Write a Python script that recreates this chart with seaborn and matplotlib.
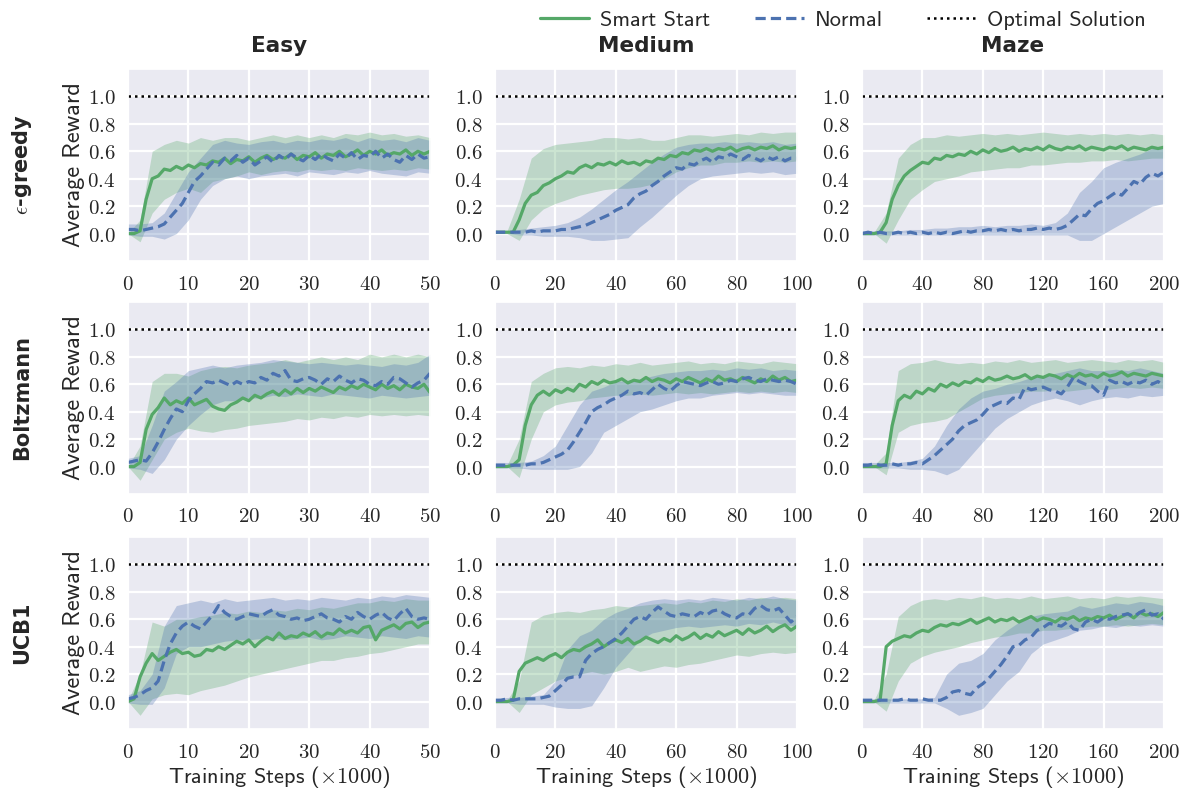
import matplotlib
matplotlib.use("Agg")
import matplotlib.pyplot as plt
import numpy as np
import pandas as pd
import seaborn as sns
from matplotlib.ticker import FuncFormatter
from matplotlib.lines import Line2D

# ---------------- data ----------------
ROWS = ["$\\epsilon$-greedy", "Boltzmann", "UCB1"]
COLS = ["Easy", "Medium", "Maze"]
XMAX = [50, 100, 200]
XTICKS = [[0, 10, 20, 30, 40, 50], [0, 20, 40, 60, 80, 100], [0, 40, 80, 120, 160, 200]]
YTICKS = [0.0, 0.2, 0.4, 0.6, 0.8, 1.0]
OPTIMAL = 1.0
METHODS = ["Smart Start", "Normal", "Optimal Solution"]

# sample steps of mean lines and of the shaded bands (x 1000 steps)
STEPS_EASY = list(range(0, 51, 1))
STEPS_MED = list(range(0, 101, 2))
STEPS_MAZE = list(range(0, 201, 4))
BAND_EASY = list(range(0, 51, 2))
BAND_MED = list(range(0, 101, 4))
BAND_MAZE = list(range(0, 201, 8))

# ---- epsilon-greedy ----
EG_EASY_SMART = [0.00,0.00,0.02,0.25,0.40,0.42,0.47,0.46,0.49,0.47, 0.50,0.48,0.51,0.50,0.53,0.52,0.55,0.51,0.54,0.53,
                 0.56,0.52,0.55,0.57,0.54,0.56,0.55,0.58,0.54,0.57, 0.56,0.59,0.55,0.58,0.57,0.60,0.56,0.58,0.61,0.57,
                 0.60,0.58,0.61,0.57,0.59,0.58,0.61,0.57,0.60,0.58, 0.60]
EG_EASY_NORMAL = [0.03,0.03,0.02,0.03,0.04,0.05,0.07,0.12,0.17,0.22, 0.30,0.38,0.42,0.47,0.52,0.50,0.55,0.53,0.57,0.52,
                  0.55,0.50,0.53,0.56,0.52,0.57,0.54,0.58,0.55,0.53, 0.57,0.54,0.58,0.55,0.53,0.58,0.55,0.59,0.54,0.57,
                  0.56,0.60,0.55,0.58,0.54,0.52,0.57,0.54,0.58,0.55, 0.56]
EG_EASY_SMART_LO = [0.00,-0.06,0.15,0.25,0.30,0.33,0.30,0.38,0.40,0.42, 0.45,0.43,0.45,0.46,0.45,0.47,0.46,0.47,0.46,0.48,
                    0.47,0.46,0.47,0.46,0.48,0.47]
EG_EASY_SMART_HI = [0.00,0.10,0.60,0.65,0.68,0.66,0.70,0.68,0.70,0.70, 0.68,0.70,0.72,0.70,0.72,0.70,0.72,0.70,0.73,0.72,
                    0.74,0.72,0.73,0.71,0.72,0.70]
EG_EASY_NORMAL_LO = [-0.01,-0.02,-0.02,-0.04,0.00,0.10,0.25,0.35,0.40,0.42, 0.40,0.42,0.43,0.44,0.42,0.45,0.44,0.43,0.45,0.44,
                     0.46,0.44,0.43,0.42,0.45,0.44]
EG_EASY_NORMAL_HI = [0.07,0.07,0.08,0.15,0.30,0.45,0.55,0.65,0.68,0.66, 0.65,0.67,0.68,0.66,0.68,0.67,0.69,0.68,0.70,0.67,
                     0.70,0.68,0.69,0.67,0.70,0.68]

EG_MED_SMART = [0.01,0.01,0.01,0.01,0.10,0.22,0.28,0.30,0.35,0.37, 0.40,0.42,0.45,0.44,0.48,0.50,0.48,0.51,0.50,0.52,
                0.50,0.53,0.51,0.52,0.50,0.53,0.52,0.55,0.54,0.57, 0.56,0.59,0.58,0.61,0.60,0.62,0.60,0.62,0.61,0.63,
                0.60,0.62,0.63,0.61,0.63,0.62,0.64,0.61,0.63,0.62, 0.63]
EG_MED_NORMAL = [0.01,0.01,0.01,0.01,0.01,0.01,0.02,0.01,0.02,0.02, 0.02,0.03,0.03,0.04,0.05,0.06,0.08,0.10,0.12,0.14,
                 0.17,0.19,0.21,0.26,0.29,0.31,0.35,0.38,0.42,0.45, 0.48,0.47,0.51,0.50,0.53,0.55,0.52,0.56,0.55,0.58,
                 0.56,0.54,0.57,0.55,0.53,0.56,0.54,0.56,0.53,0.55, 0.55]
EG_MED_SMART_LO = [0.00,0.00,-0.05,0.10,0.18,0.22,0.25,0.28,0.30,0.32, 0.33,0.33,0.34,0.36,0.40,0.45,0.48,0.50,0.50,0.52,
                   0.52,0.53,0.52,0.53,0.52,0.53]
EG_MED_SMART_HI = [0.02,0.02,0.25,0.55,0.62,0.65,0.66,0.67,0.68,0.70, 0.70,0.69,0.70,0.68,0.68,0.70,0.72,0.72,0.71,0.72,
                   0.73,0.72,0.74,0.73,0.74,0.74]
EG_MED_NORMAL_LO = [0.00,0.00,-0.01,-0.01,-0.02,-0.02,-0.02,-0.03,-0.05,-0.05, -0.04,-0.03,0.05,0.12,0.20,0.28,0.35,0.40,0.42,0.43,
                    0.44,0.45,0.44,0.45,0.43,0.44]
EG_MED_NORMAL_HI = [0.02,0.02,0.03,0.04,0.05,0.06,0.08,0.12,0.18,0.25, 0.32,0.38,0.45,0.52,0.58,0.63,0.65,0.66,0.66,0.67,
                    0.66,0.67,0.66,0.67,0.65,0.66]

EG_MAZE_SMART = [0.00,0.00,0.00,0.01,0.08,0.25,0.35,0.42,0.46,0.49, 0.52,0.51,0.55,0.54,0.57,0.56,0.58,0.57,0.60,0.58,
                 0.61,0.59,0.62,0.60,0.61,0.63,0.60,0.62,0.61,0.63, 0.61,0.64,0.62,0.61,0.63,0.62,0.64,0.61,0.63,0.62,
                 0.61,0.63,0.62,0.64,0.61,0.63,0.62,0.61,0.63,0.62, 0.63]
EG_MAZE_NORMAL = [0.00,0.01,0.00,0.01,0.00,0.00,0.01,0.00,0.01,0.00, 0.01,0.00,0.01,0.00,0.01,0.00,0.01,0.02,0.01,0.02,
                  0.02,0.03,0.02,0.03,0.02,0.03,0.02,0.03,0.03,0.04, 0.03,0.04,0.03,0.04,0.06,0.10,0.14,0.13,0.18,0.22,
                  0.24,0.27,0.30,0.28,0.33,0.38,0.36,0.41,0.44,0.42, 0.45]
EG_MAZE_SMART_LO = [0.00,0.00,-0.07,0.10,0.25,0.32,0.38,0.40,0.42,0.45, 0.46,0.47,0.48,0.48,0.50,0.50,0.51,0.52,0.52,0.53,
                    0.53,0.54,0.53,0.54,0.55,0.55]
EG_MAZE_SMART_HI = [0.01,0.01,0.15,0.55,0.65,0.70,0.70,0.72,0.71,0.72, 0.73,0.72,0.73,0.72,0.73,0.74,0.73,0.72,0.73,0.72,
                    0.73,0.72,0.73,0.72,0.73,0.72]
EG_MAZE_NORMAL_LO = [-0.01,-0.01,-0.01,-0.01,-0.01,-0.01,-0.01,-0.01,-0.01,-0.01, -0.01,-0.01,-0.01,-0.01,-0.01,-0.01,-0.01,-0.01,-0.05,-0.05,
                     0.00,0.05,0.10,0.15,0.20,0.22]
EG_MAZE_NORMAL_HI = [0.02,0.02,0.02,0.02,0.03,0.03,0.04,0.04,0.05,0.05, 0.06,0.05,0.06,0.06,0.07,0.06,0.08,0.15,0.30,0.38,
                     0.48,0.52,0.55,0.58,0.62,0.62]

# ---- Boltzmann ----
BZ_EASY_SMART = [0.00,0.00,0.03,0.27,0.38,0.43,0.50,0.45,0.48,0.46, 0.50,0.45,0.47,0.49,0.44,0.42,0.41,0.45,0.47,0.50,
                 0.48,0.52,0.50,0.53,0.55,0.52,0.56,0.53,0.57,0.54, 0.57,0.55,0.58,0.56,0.54,0.58,0.56,0.59,0.57,0.60,
                 0.58,0.56,0.60,0.57,0.59,0.56,0.60,0.58,0.57,0.60, 0.54]
BZ_EASY_NORMAL = [0.03,0.04,0.05,0.04,0.10,0.18,0.27,0.35,0.42,0.40, 0.48,0.53,0.57,0.62,0.61,0.63,0.61,0.59,0.62,0.60,
                  0.62,0.61,0.65,0.63,0.68,0.66,0.70,0.63,0.62,0.64, 0.65,0.63,0.60,0.64,0.62,0.66,0.63,0.61,0.64,0.63,
                  0.60,0.59,0.62,0.60,0.65,0.64,0.61,0.58,0.61,0.63, 0.68]
BZ_EASY_SMART_LO = [0.00,-0.10,0.05,0.20,0.25,0.28,0.26,0.25,0.27,0.28, 0.30,0.31,0.32,0.33,0.35,0.34,0.36,0.35,0.37,0.36,
                    0.38,0.37,0.38,0.37,0.38,0.37]
BZ_EASY_SMART_HI = [0.00,0.15,0.62,0.68,0.68,0.66,0.70,0.72,0.73,0.72, 0.74,0.75,0.76,0.78,0.76,0.78,0.80,0.78,0.80,0.78,
                    0.82,0.80,0.82,0.80,0.82,0.80]
BZ_EASY_NORMAL_LO = [-0.01,-0.02,-0.05,0.05,0.20,0.30,0.38,0.45,0.48,0.48, 0.50,0.50,0.52,0.51,0.53,0.52,0.51,0.53,0.52,0.51,
                     0.50,0.52,0.51,0.50,0.51,0.52]
BZ_EASY_NORMAL_HI = [0.06,0.08,0.30,0.55,0.62,0.70,0.72,0.74,0.72,0.74, 0.75,0.76,0.78,0.77,0.76,0.75,0.76,0.75,0.74,0.75,
                     0.74,0.73,0.75,0.74,0.76,0.82]

BZ_MED_SMART = [0.00,0.00,0.00,0.01,0.05,0.30,0.45,0.52,0.55,0.52, 0.56,0.54,0.57,0.55,0.60,0.58,0.62,0.60,0.63,0.61,
                0.62,0.64,0.61,0.63,0.62,0.65,0.62,0.64,0.63,0.61, 0.64,0.62,0.65,0.63,0.61,0.64,0.62,0.66,0.63,0.64,
                0.62,0.65,0.63,0.61,0.64,0.62,0.66,0.63,0.65,0.62, 0.63]
BZ_MED_NORMAL = [0.01,0.01,0.01,0.01,0.01,0.01,0.02,0.02,0.03,0.05, 0.07,0.09,0.12,0.18,0.25,0.32,0.40,0.43,0.45,0.48,
                 0.50,0.52,0.55,0.53,0.54,0.52,0.56,0.60,0.57,0.55, 0.59,0.62,0.61,0.60,0.59,0.61,0.62,0.60,0.61,0.63,
                 0.62,0.64,0.65,0.63,0.62,0.64,0.63,0.62,0.63,0.62, 0.60]
BZ_MED_SMART_LO = [0.00,0.00,-0.08,0.20,0.40,0.45,0.47,0.48,0.50,0.51, 0.52,0.52,0.53,0.52,0.53,0.54,0.53,0.54,0.53,0.54,
                   0.55,0.54,0.55,0.54,0.55,0.54]
BZ_MED_SMART_HI = [0.01,0.01,0.20,0.62,0.68,0.72,0.73,0.72,0.74,0.73, 0.75,0.74,0.76,0.74,0.75,0.76,0.77,0.75,0.76,0.75,
                   0.77,0.76,0.75,0.77,0.76,0.75]
BZ_MED_NORMAL_LO = [-0.01,-0.01,-0.01,-0.02,-0.02,-0.02,-0.02,0.00,0.10,0.25, 0.30,0.35,0.40,0.42,0.45,0.48,0.50,0.50,0.52,0.53,
                    0.54,0.53,0.54,0.53,0.52,0.52]
BZ_MED_NORMAL_HI = [0.03,0.03,0.03,0.04,0.08,0.15,0.30,0.45,0.55,0.58, 0.62,0.63,0.64,0.66,0.68,0.69,0.70,0.70,0.71,0.70,
                    0.72,0.71,0.72,0.70,0.71,0.70]

BZ_MAZE_SMART = [0.00,0.00,0.00,0.00,0.02,0.30,0.48,0.52,0.50,0.55, 0.53,0.57,0.55,0.60,0.58,0.61,0.59,0.62,0.61,0.64,
                 0.62,0.65,0.63,0.64,0.66,0.64,0.65,0.67,0.64,0.66, 0.65,0.67,0.66,0.64,0.67,0.65,0.68,0.66,0.67,0.65,
                 0.68,0.66,0.67,0.69,0.66,0.68,0.67,0.66,0.68,0.67, 0.66]
BZ_MAZE_NORMAL = [0.01,0.01,0.02,0.01,0.01,0.02,0.01,0.02,0.02,0.03, 0.02,0.05,0.08,0.12,0.16,0.20,0.26,0.30,0.32,0.34,
                  0.38,0.43,0.45,0.47,0.46,0.50,0.49,0.58,0.56,0.57, 0.58,0.56,0.55,0.53,0.58,0.65,0.62,0.60,0.59,0.55,
                  0.52,0.63,0.61,0.62,0.60,0.62,0.61,0.63,0.60,0.62, 0.59]
BZ_MAZE_SMART_LO = [0.00,0.00,-0.06,0.25,0.30,0.32,0.33,0.35,0.40,0.45, 0.50,0.52,0.53,0.54,0.55,0.55,0.56,0.55,0.56,0.57,
                    0.56,0.57,0.58,0.57,0.58,0.57]
BZ_MAZE_SMART_HI = [0.01,0.01,0.10,0.70,0.75,0.76,0.78,0.76,0.75,0.76, 0.75,0.77,0.76,0.78,0.76,0.77,0.78,0.76,0.77,0.78,
                    0.77,0.76,0.78,0.77,0.78,0.76]
BZ_MAZE_NORMAL_LO = [-0.01,-0.01,-0.01,-0.01,-0.02,-0.02,-0.03,-0.06,-0.02,0.08, 0.18,0.28,0.35,0.40,0.45,0.48,0.50,0.48,0.45,0.48,
                     0.50,0.51,0.50,0.52,0.51,0.52]
BZ_MAZE_NORMAL_HI = [0.03,0.03,0.03,0.03,0.04,0.06,0.15,0.30,0.42,0.50, 0.55,0.57,0.60,0.62,0.65,0.66,0.68,0.70,0.72,0.70,
                     0.70,0.71,0.70,0.72,0.70,0.68]

# ---- UCB1 ----
UC_EASY_SMART = [0.00,0.02,0.18,0.28,0.35,0.30,0.33,0.36,0.38,0.35, 0.36,0.33,0.34,0.38,0.37,0.40,0.38,0.41,0.44,0.42,
                 0.45,0.40,0.44,0.47,0.45,0.50,0.46,0.48,0.47,0.50, 0.48,0.51,0.47,0.50,0.49,0.53,0.50,0.52,0.50,0.54,
                 0.55,0.45,0.52,0.54,0.56,0.53,0.57,0.58,0.54,0.57, 0.58]
UC_EASY_NORMAL = [0.02,0.03,0.05,0.08,0.10,0.15,0.30,0.42,0.50,0.55, 0.58,0.55,0.53,0.58,0.63,0.70,0.65,0.62,0.60,0.62,
                  0.64,0.63,0.62,0.65,0.67,0.63,0.62,0.60,0.61,0.59, 0.60,0.62,0.64,0.61,0.60,0.58,0.62,0.60,0.65,0.62,
                  0.60,0.63,0.65,0.61,0.59,0.64,0.68,0.62,0.60,0.61, 0.60]
UC_EASY_SMART_LO = [0.00,-0.10,0.02,0.05,0.06,0.05,0.08,0.10,0.12,0.15, 0.18,0.20,0.22,0.24,0.26,0.28,0.30,0.30,0.32,0.33,
                    0.35,0.36,0.38,0.40,0.42,0.42]
UC_EASY_SMART_HI = [0.01,0.20,0.58,0.55,0.60,0.60,0.62,0.63,0.65,0.64, 0.66,0.65,0.67,0.66,0.68,0.67,0.69,0.68,0.70,0.72,
                    0.72,0.74,0.73,0.75,0.74,0.74]
UC_EASY_NORMAL_LO = [-0.01,-0.02,-0.02,0.10,0.35,0.40,0.40,0.42,0.44,0.45, 0.45,0.46,0.47,0.45,0.46,0.47,0.45,0.46,0.48,0.47,
                     0.46,0.48,0.47,0.46,0.48,0.47]
UC_EASY_NORMAL_HI = [0.05,0.08,0.20,0.55,0.70,0.72,0.74,0.72,0.75,0.73, 0.74,0.75,0.76,0.74,0.75,0.74,0.76,0.75,0.74,0.76,
                     0.75,0.77,0.76,0.78,0.77,0.76]

UC_MED_SMART = [0.00,0.00,0.00,0.01,0.22,0.28,0.30,0.32,0.30,0.33, 0.35,0.32,0.36,0.38,0.37,0.40,0.42,0.45,0.40,0.43,
                0.45,0.43,0.46,0.42,0.44,0.47,0.45,0.43,0.46,0.44, 0.48,0.45,0.47,0.50,0.46,0.49,0.47,0.51,0.48,0.50,
                0.52,0.49,0.53,0.50,0.52,0.55,0.51,0.54,0.56,0.52, 0.55]
UC_MED_NORMAL = [0.01,0.01,0.02,0.01,0.02,0.02,0.02,0.02,0.03,0.04, 0.08,0.12,0.17,0.18,0.18,0.30,0.35,0.38,0.40,0.43,
                 0.46,0.50,0.55,0.60,0.62,0.60,0.65,0.69,0.66,0.63, 0.62,0.64,0.63,0.62,0.65,0.63,0.66,0.67,0.64,0.62,
                 0.61,0.64,0.63,0.68,0.70,0.67,0.66,0.68,0.63,0.58, 0.62]
UC_MED_SMART_LO = [0.00,0.00,-0.08,0.05,0.10,0.15,0.18,0.20,0.22,0.20, 0.22,0.25,0.22,0.24,0.26,0.25,0.27,0.28,0.30,0.32,
                   0.34,0.33,0.35,0.36,0.35,0.36]
UC_MED_SMART_HI = [0.01,0.01,0.15,0.58,0.63,0.65,0.66,0.65,0.67,0.68, 0.70,0.69,0.70,0.71,0.72,0.71,0.73,0.72,0.74,0.73,
                   0.75,0.74,0.76,0.75,0.76,0.75]
UC_MED_NORMAL_LO = [-0.01,-0.01,-0.02,-0.02,-0.02,-0.04,-0.05,-0.05,-0.03,0.10, 0.25,0.35,0.45,0.50,0.52,0.54,0.55,0.54,0.55,0.56,
                    0.55,0.57,0.56,0.58,0.56,0.55]
UC_MED_NORMAL_HI = [0.02,0.03,0.03,0.04,0.05,0.15,0.38,0.48,0.52,0.60, 0.65,0.68,0.72,0.74,0.75,0.74,0.75,0.74,0.76,0.75,
                    0.74,0.76,0.75,0.77,0.75,0.74]

UC_MAZE_SMART = [0.00,0.00,0.00,0.01,0.40,0.44,0.46,0.48,0.47,0.50, 0.52,0.51,0.54,0.56,0.55,0.57,0.56,0.58,0.60,0.57,
                 0.59,0.61,0.58,0.60,0.59,0.61,0.58,0.60,0.62,0.59, 0.61,0.60,0.58,0.61,0.60,0.62,0.59,0.61,0.60,0.62,
                 0.61,0.63,0.60,0.62,0.64,0.61,0.65,0.63,0.64,0.62, 0.65]
UC_MAZE_NORMAL = [0.01,0.01,0.01,0.01,0.01,0.01,0.01,0.02,0.01,0.01, 0.02,0.01,0.01,0.01,0.03,0.07,0.08,0.06,0.05,0.10,
                  0.13,0.17,0.22,0.27,0.33,0.40,0.41,0.45,0.47,0.52, 0.54,0.57,0.56,0.55,0.58,0.53,0.52,0.58,0.60,0.58,
                  0.61,0.60,0.62,0.63,0.64,0.62,0.65,0.67,0.63,0.64, 0.60]
UC_MAZE_SMART_LO = [0.00,0.00,-0.07,0.15,0.28,0.33,0.36,0.38,0.40,0.43, 0.45,0.47,0.48,0.50,0.50,0.52,0.52,0.53,0.54,0.55,
                    0.55,0.56,0.55,0.56,0.57,0.56]
UC_MAZE_SMART_HI = [0.01,0.01,0.20,0.62,0.70,0.74,0.75,0.74,0.76,0.75, 0.77,0.75,0.76,0.75,0.77,0.75,0.76,0.77,0.75,0.76,
                    0.75,0.77,0.76,0.77,0.76,0.75]
UC_MAZE_NORMAL_LO = [-0.01,-0.01,-0.01,-0.01,-0.01,-0.01,-0.01,-0.05,-0.10,-0.08, -0.05,0.05,0.15,0.22,0.35,0.42,0.45,0.48,0.52,0.53,
                     0.55,0.54,0.56,0.55,0.56,0.55]
UC_MAZE_NORMAL_HI = [0.02,0.02,0.02,0.02,0.02,0.02,0.03,0.20,0.28,0.30, 0.35,0.45,0.52,0.58,0.62,0.64,0.65,0.66,0.70,0.68,
                     0.70,0.72,0.71,0.73,0.72,0.70]

STEPS = [STEPS_EASY, STEPS_MED, STEPS_MAZE]
BANDS = [BAND_EASY, BAND_MED, BAND_MAZE]
PANELS = [
    [(EG_EASY_SMART, EG_EASY_SMART_LO, EG_EASY_SMART_HI, EG_EASY_NORMAL, EG_EASY_NORMAL_LO, EG_EASY_NORMAL_HI),
     (EG_MED_SMART, EG_MED_SMART_LO, EG_MED_SMART_HI, EG_MED_NORMAL, EG_MED_NORMAL_LO, EG_MED_NORMAL_HI),
     (EG_MAZE_SMART, EG_MAZE_SMART_LO, EG_MAZE_SMART_HI, EG_MAZE_NORMAL, EG_MAZE_NORMAL_LO, EG_MAZE_NORMAL_HI)],
    [(BZ_EASY_SMART, BZ_EASY_SMART_LO, BZ_EASY_SMART_HI, BZ_EASY_NORMAL, BZ_EASY_NORMAL_LO, BZ_EASY_NORMAL_HI),
     (BZ_MED_SMART, BZ_MED_SMART_LO, BZ_MED_SMART_HI, BZ_MED_NORMAL, BZ_MED_NORMAL_LO, BZ_MED_NORMAL_HI),
     (BZ_MAZE_SMART, BZ_MAZE_SMART_LO, BZ_MAZE_SMART_HI, BZ_MAZE_NORMAL, BZ_MAZE_NORMAL_LO, BZ_MAZE_NORMAL_HI)],
    [(UC_EASY_SMART, UC_EASY_SMART_LO, UC_EASY_SMART_HI, UC_EASY_NORMAL, UC_EASY_NORMAL_LO, UC_EASY_NORMAL_HI),
     (UC_MED_SMART, UC_MED_SMART_LO, UC_MED_SMART_HI, UC_MED_NORMAL, UC_MED_NORMAL_LO, UC_MED_NORMAL_HI),
     (UC_MAZE_SMART, UC_MAZE_SMART_LO, UC_MAZE_SMART_HI, UC_MAZE_NORMAL, UC_MAZE_NORMAL_LO, UC_MAZE_NORMAL_HI)],
]

# ---------------- style ----------------
GREEN = "#55A868"
BLUE = "#4C72B0"
sns.set_theme(style="darkgrid", rc={"axes.facecolor": "#EAEAF2", "grid.color": "white",
                                    "grid.linewidth": 1.6})
plt.rcParams["mathtext.fontset"] = "cm"
LABEL_FONT = ["cmss10", "DejaVu Sans"]
TITLE_FONT = ["DejaVu Sans"]

fig = plt.figure(figsize=(11.92, 7.89), dpi=100)
W, H = 1192.0, 789.0
col_left = [128, 495, 862]
row_top = [69, 302, 537]
ax_w, ax_h = 302, 192

tick_fmt_y = FuncFormatter(lambda v, p: f"${v:.1f}$")
tick_fmt_x = FuncFormatter(lambda v, p: f"${v:g}$")

for r in range(3):
    for c in range(3):
        ax = fig.add_axes([col_left[c] / W, 1 - (row_top[r] + ax_h) / H, ax_w / W, ax_h / H])
        sm, sm_lo, sm_hi, nm, nm_lo, nm_hi = PANELS[r][c]
        ax.fill_between(BANDS[c], sm_lo, sm_hi, color=GREEN, alpha=0.3, lw=0)
        ax.fill_between(BANDS[c], nm_lo, nm_hi, color=BLUE, alpha=0.3, lw=0)
        df = pd.DataFrame({
            "step": list(STEPS[c]) * 2,
            "reward": list(sm) + list(nm),
            "method": ["Smart Start"] * len(sm) + ["Normal"] * len(nm),
        })
        sns.lineplot(data=df, x="step", y="reward", hue="method", style="method",
                     palette={"Smart Start": GREEN, "Normal": BLUE},
                     dashes={"Smart Start": "", "Normal": (3.2, 1.6)},
                     linewidth=2.3, legend=False, ax=ax)
        ax.axhline(OPTIMAL, color="black", linestyle=(0, (1, 1.6)), lw=1.8)
        ax.set_xlim(0, XMAX[c])
        ax.set_ylim(-0.2, 1.2)
        ax.set_xticks(XTICKS[c])
        ax.set_yticks(YTICKS)
        ax.xaxis.set_major_formatter(tick_fmt_x)
        ax.yaxis.set_major_formatter(tick_fmt_y)
        ax.tick_params(labelsize=15, pad=3, colors="#262626")
        ax.set_xlabel("")
        ax.set_ylabel("")
        if c == 0:
            ax.set_ylabel("Average Reward", fontsize=17.5, family=LABEL_FONT, color="#262626", labelpad=2)
        if r == 2:
            ax.set_xlabel("Training Steps ($\\times 1000$)", fontsize=16, family=LABEL_FONT,
                          color="#262626")
            ax.xaxis.set_label_coords(0.5, -(764 - 729) / ax_h)
        if r == 0:
            ax.set_title(COLS[c], fontsize=15.5, fontweight="bold", family=TITLE_FONT,
                         color="#262626", pad=12)

for r in range(3):
    yc = 1 - (row_top[r] + ax_h / 2) / H
    fig.text(22 / W, yc, ROWS[r], rotation=90, ha="center", va="center", fontsize=15,
             fontweight="bold", family=TITLE_FONT, color="#262626")

handles = [Line2D([], [], color=GREEN, lw=2.3),
           Line2D([], [], color=BLUE, lw=2.3, dashes=(3.2, 1.6)),
           Line2D([], [], color="black", lw=1.8, linestyle=(0, (1, 1.6)))]
fig.legend(handles, METHODS, loc="center", bbox_to_anchor=(843 / W, 1 - 20 / H), ncol=3,
           frameon=False, prop={"family": LABEL_FONT, "size": 16}, handlelength=2.2,
           columnspacing=2.0, handletextpad=0.5, borderpad=0.2)

fig.savefig("out.png", dpi=100)
